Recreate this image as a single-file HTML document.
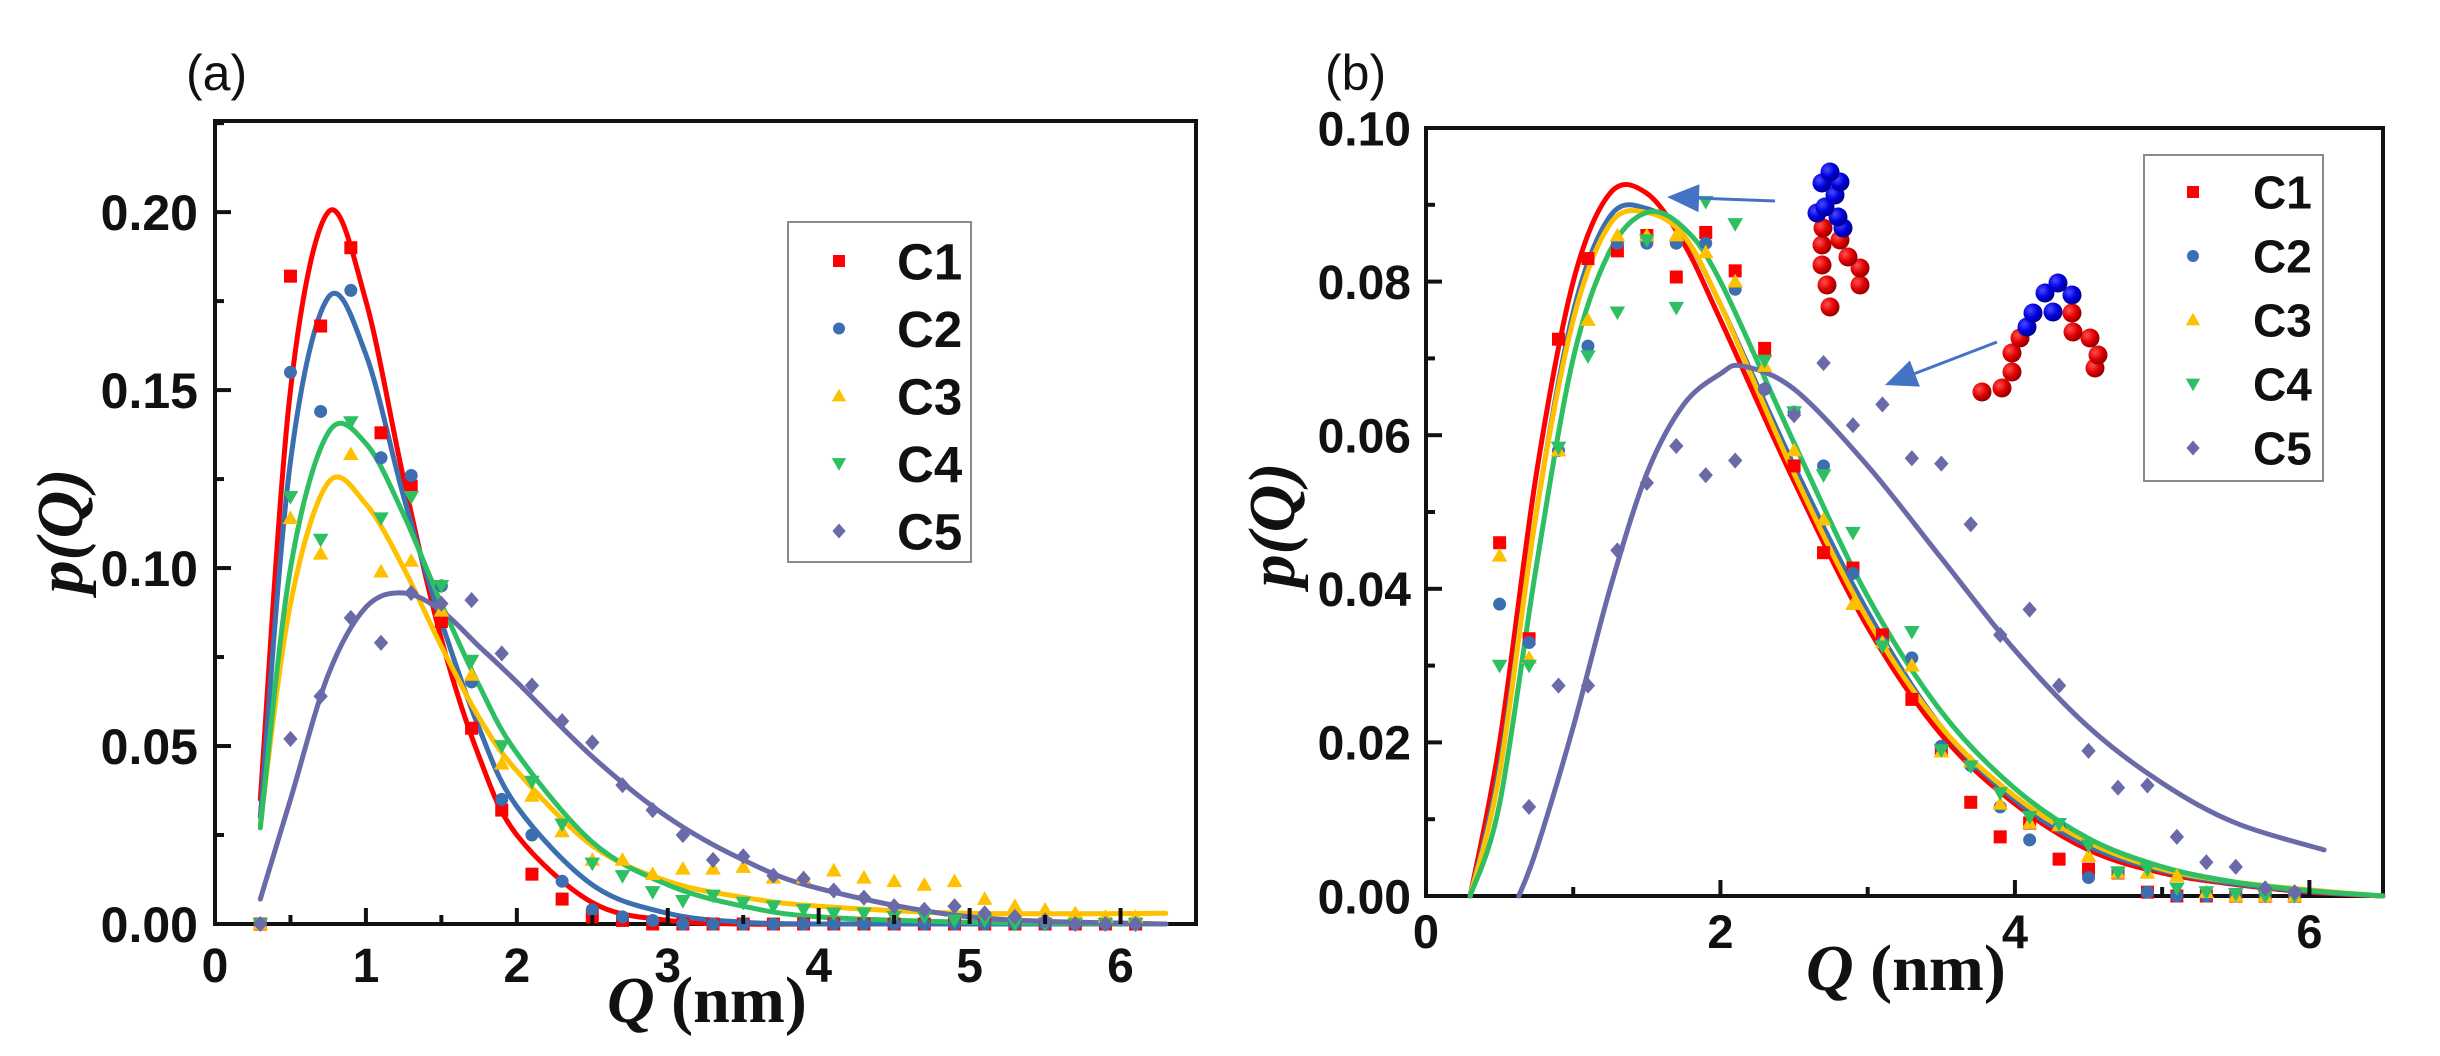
<!DOCTYPE html>
<html><head><meta charset="utf-8"><style>
html,body{margin:0;padding:0;background:#fff;}
svg{display:block;}
.tk{font-family:"Liberation Sans",sans-serif;font-weight:bold;fill:#111;}
.ttl{font-family:"Liberation Serif",serif;font-weight:bold;fill:#111;}
</style></head><body>
<svg id="fig" width="2440" height="1056" viewBox="0 0 2440 1056" xmlns="http://www.w3.org/2000/svg">
<g id="panelA"></g>
<g id="panelB"></g>
<g id="illus"></g>
</svg>
<script>
// ---------- Panel (a) data ----------
const seriesNames = ["C1","C2","C3","C4","C5"];
const colors = ["#ff0000","#3b6fb0","#ffc000","#2fbf63","#6a6aa8"];
const ptX_a = [0.3,0.5,0.7,0.9,1.1,1.3,1.5,1.7,1.9,2.1,2.3,2.5,2.7,2.9,3.1,3.3,3.5,3.7,3.9,4.1,4.3,4.5,4.7,4.9,5.1,5.3,5.5,5.7,5.9,6.1];
const a_C1 = [0,0.182,0.168,0.19,0.138,0.123,0.085,0.055,0.032,0.014,0.007,0.002,0.001,0,0,0,0,0,0,0,0,0,0,0,0,0,0,0,0,0];
const a_C2 = [0,0.155,0.144,0.178,0.131,0.126,0.095,0.068,0.035,0.025,0.012,0.004,0.002,0.001,0,0,0,0,0,0,0,0,0,0,0,0,0,0,0,0];
const a_C3 = [0,0.114,0.104,0.132,0.099,0.102,0.088,0.07,0.045,0.036,0.026,0.018,0.018,0.014,0.0155,0.0155,0.016,0.013,0.013,0.015,0.013,0.012,0.011,0.012,0.007,0.005,0.004,0.003,0.002,0.002];
const a_C4 = [0,0.12,0.108,0.141,0.114,0.12,0.095,0.074,0.05,0.04,0.028,0.017,0.0135,0.009,0.0065,0.008,0.006,0.005,0.004,0.003,0.003,0.002,0.002,0.001,0.001,0,0,0,0,0];
const a_C5 = [0,0.052,0.064,0.086,0.079,0.093,0.09,0.091,0.076,0.067,0.057,0.051,0.039,0.032,0.025,0.018,0.019,0.0136,0.0127,0.0094,0.0074,0.005,0.004,0.005,0.003,0.002,0.001,0,0,0];
const fitX_a = [0.3,0.5,0.75,1.0,1.25,1.5,1.75,2.0,2.5,3.0,3.5,4.0,5.0,6.3];
const fit_a_C1 = [0.035,0.15,0.2,0.175,0.125,0.08,0.047,0.025,0.006,0.001,0,0,0,0];
const fit_a_C2 = [0.03,0.13,0.176,0.16,0.12,0.085,0.055,0.033,0.011,0.003,0.0005,0,0,0];
const fit_a_C3 = [0.028,0.09,0.124,0.118,0.1,0.078,0.058,0.043,0.022,0.012,0.0075,0.005,0.003,0.003];
const fit_a_C4 = [0.027,0.1,0.138,0.135,0.115,0.09,0.067,0.048,0.023,0.011,0.005,0.002,0.0005,0];
const fit_a_C5 = [0.007,0.035,0.07,0.089,0.093,0.088,0.078,0.068,0.047,0.03,0.018,0.01,0.002,0];
const xTicks_a = ["0","1","2","3","4","5","6"];
const yTicks_a = ["0.00","0.05","0.10","0.15","0.20"];

// ---------- Panel (b) data ----------
const ptX_b = [0.5,0.7,0.9,1.1,1.3,1.5,1.7,1.9,2.1,2.3,2.5,2.7,2.9,3.1,3.3,3.5,3.7,3.9,4.1,4.3,4.5,4.7,4.9,5.1,5.3,5.5,5.7,5.9];
const b_C1 = [0.046,0.0335,0.0725,0.083,0.084,0.086,0.0806,0.0864,0.0814,0.0713,0.056,0.0447,0.0427,0.034,0.0256,0.019,0.0122,0.0077,0.0095,0.0048,0.0035,0.003,0.0005,0,0,0,0,0];
const b_C2 = [0.038,0.033,0.058,0.0716,0.085,0.085,0.085,0.085,0.079,0.066,0.063,0.056,0.042,0.033,0.031,0.0195,0.017,0.0116,0.0073,0.009,0.0024,0.003,0.0005,0,0,0,0,0];
const b_C3 = [0.0443,0.031,0.058,0.075,0.086,0.086,0.086,0.0838,0.08,0.069,0.058,0.049,0.038,0.033,0.03,0.0188,0.0175,0.012,0.0095,0.0092,0.0052,0.003,0.003,0.0026,0.0005,0,0,0];
const b_C4 = [0.03,0.03,0.0584,0.0703,0.076,0.0854,0.0766,0.0904,0.0875,0.0697,0.063,0.0548,0.0473,0.0325,0.0344,0.019,0.0169,0.0134,0.0103,0.0094,0.0066,0.0031,0.0035,0.001,0.0005,0.0003,0,0];
const b_C5 = [null,0.0116,0.0274,0.0274,0.045,0.0538,0.0586,0.0548,0.0567,0.066,0.0626,0.0694,0.0613,0.064,0.057,0.0563,0.0484,0.034,0.0373,0.0274,0.0189,0.0141,0.0144,0.0077,0.0044,0.0038,0.001,0.0005];
const fitX_b = [0.3,0.5,0.75,1.0,1.25,1.5,1.75,2.0,2.5,3.0,3.5,4.0,4.5,5.0,5.5,6.0,6.5];
const fit_b_C1 = [0,0.02,0.055,0.08,0.0915,0.0915,0.085,0.075,0.054,0.035,0.021,0.012,0.006,0.003,0.0015,0.0005,0];
const fit_b_C2 = [0,0.017,0.05,0.076,0.0885,0.0895,0.086,0.077,0.056,0.037,0.022,0.0125,0.0065,0.0033,0.0016,0.0006,0];
const fit_b_C3 = [0,0.016,0.05,0.075,0.0875,0.089,0.086,0.077,0.055,0.036,0.022,0.013,0.007,0.0035,0.0018,0.0008,0];
const fit_b_C4 = [0,0.012,0.043,0.07,0.084,0.089,0.087,0.08,0.059,0.039,0.024,0.014,0.0075,0.0038,0.0018,0.0007,0];
const fitX_b5 = [0.63,0.75,1.0,1.25,1.5,1.75,2.0,2.15,2.5,3.0,3.5,4.0,4.5,5.0,5.5,6.1];
const fit_b_C5 = [0,0.006,0.022,0.04,0.055,0.064,0.068,0.069,0.066,0.056,0.044,0.032,0.022,0.0147,0.0095,0.006];
const xTicks_b = ["0","2","4","6"];
const yTicks_b = ["0.00","0.02","0.04","0.06","0.08","0.10"];

const NS="http://www.w3.org/2000/svg";
function mk(tag, attrs, parent){const e=document.createElementNS(NS,tag);for(const k in attrs)e.setAttribute(k,attrs[k]);parent.appendChild(e);return e;}

function smoothPath(pts){
  let d="M"+pts[0][0].toFixed(1)+","+pts[0][1].toFixed(1);
  for(let i=0;i<pts.length-1;i++){
    const p0=pts[i-1]||pts[i],p1=pts[i],p2=pts[i+1],p3=pts[i+2]||p2;
    const c1=[p1[0]+(p2[0]-p0[0])/6,p1[1]+(p2[1]-p0[1])/6];
    const c2=[p2[0]-(p3[0]-p1[0])/6,p2[1]-(p3[1]-p1[1])/6];
    d+=" C"+c1[0].toFixed(1)+","+c1[1].toFixed(1)+" "+c2[0].toFixed(1)+","+c2[1].toFixed(1)+" "+p2[0].toFixed(1)+","+p2[1].toFixed(1);
  }
  return d;
}

function marker(g, kind, cx, cy, color, s){
  let e;
  if(kind===0) e=mk("rect",{x:cx-s/2,y:cy-s/2,width:s,height:s,fill:color},g);
  else if(kind===1) e=mk("circle",{cx:cx,cy:cy,r:s/2,fill:color},g);
  else if(kind===2) e=mk("polygon",{points:`${cx},${cy-s*0.6} ${cx+s*0.6},${cy+s*0.45} ${cx-s*0.6},${cy+s*0.45}`,fill:color},g);
  else if(kind===3) e=mk("polygon",{points:`${cx},${cy+s*0.6} ${cx+s*0.6},${cy-s*0.45} ${cx-s*0.6},${cy-s*0.45}`,fill:color},g);
  else e=mk("polygon",{points:`${cx},${cy-s*0.62} ${cx+s*0.55},${cy} ${cx},${cy+s*0.62} ${cx-s*0.55},${cy}`,fill:color},g);
  return e;
}

function drawPanel(cfg){
  const g=cfg.g;
  const X=v=>cfg.left+(v-cfg.xmin)/(cfg.xmax-cfg.xmin)*(cfg.right-cfg.left);
  const Y=v=>cfg.bottom-(v-cfg.ymin)/(cfg.ymax-cfg.ymin)*(cfg.bottom-cfg.top);
  // frame
  const fr=mk("rect",{x:cfg.left,y:cfg.top,width:cfg.right-cfg.left,height:cfg.bottom-cfg.top,fill:"none",stroke:"#111","stroke-width":4},g);
  
  
  // curves
  cfg.fits.forEach((f,i)=>{
    const pts=f.x.map((xv,j)=>[X(xv),Y(f.y[j])]);
    const p=mk("path",{d:smoothPath(pts),fill:"none",stroke:colors[i],"stroke-width":5,"stroke-linejoin":"round","stroke-linecap":"round"},g);
    
    
  });
  // points
  cfg.points.forEach((ys,i)=>{
    const gg=mk("g",{},g);
    
    
    ys.forEach((v,j)=>{ if(v===null) return;
      const m=marker(gg,i,X(cfg.px[j]),Y(v),colors[i],13);
      
      
    });
  });
  // ticks
  cfg.xt.forEach(lbl=>{
    const v=parseFloat(lbl);
    const t=mk("line",{x1:X(v),x2:X(v),y1:cfg.bottom,y2:cfg.bottom-16,stroke:"#111","stroke-width":4},g);
    
    
    const tx=mk("text",{x:X(v),y:cfg.xlY,"text-anchor":"middle","font-size":cfg.xfs,class:"tk"},g);
    tx.textContent=lbl;
    
    
  });
  for(let v=cfg.xmin+cfg.xminor;v<cfg.xmax;v+=cfg.xminor*2){
    const t=mk("line",{x1:X(v),x2:X(v),y1:cfg.bottom,y2:cfg.bottom-9,stroke:"#111","stroke-width":4},g);
    
    
  }
  cfg.yt.forEach(lbl=>{
    const v=parseFloat(lbl);
    const t=mk("line",{x1:cfg.left,x2:cfg.left+16,y1:Y(v),y2:Y(v),stroke:"#111","stroke-width":4},g);
    
    
    const tx=mk("text",{x:cfg.ylX,y:Y(v)+cfg.yfs*0.36,"text-anchor":"end","font-size":cfg.yfs,class:"tk"},g);
    tx.textContent=lbl;
    
    
  });
  const ystep=parseFloat(cfg.yt[1])-parseFloat(cfg.yt[0]);
  for(let v=ystep/2;v<cfg.ymax;v+=ystep){
    const t=mk("line",{x1:cfg.left,x2:cfg.left+9,y1:Y(v),y2:Y(v),stroke:"#111","stroke-width":4},g);
    
    
  }
  // legend
  const L=cfg.leg;
  const lg=mk("g",{},g);
  
  
  const lb=mk("rect",{x:L.x,y:L.y,width:L.w,height:L.h,fill:"#fff",stroke:"#8a8a8a","stroke-width":2},lg);
  
  
  seriesNames.forEach((n,i)=>{
    const cy=L.y0+i*L.dy;
    const m=marker(lg,i,L.mx,cy,colors[i],12);
    
    
    const t=mk("text",{x:L.tx,y:cy+L.fs*0.36,"font-size":L.fs,class:"tk"},lg);
    t.textContent=n;
    
    
  });
  // titles
  const pl=mk("text",{x:cfg.plX,y:cfg.plY,"font-size":50,"font-family":"Liberation Sans, sans-serif",fill:"#111"},g);
  pl.textContent=cfg.panelLabel;
  
  
  const yt=mk("text",{x:0,y:0,"font-size":66,class:"ttl","font-style":"italic","text-anchor":"middle",transform:`translate(${cfg.ytX},${cfg.ytY}) rotate(-90)`},g);
  yt.textContent="p(Q)";
  
  
  const xt=mk("text",{x:cfg.xtX,y:cfg.xtY,"font-size":66,class:"ttl"},g);
  xt.innerHTML='<tspan font-style="italic">Q</tspan> (nm)';
  
  
}

drawPanel({g:document.getElementById("panelA"),left:215,right:1196,top:121,bottom:924,xmin:0,xmax:6.5,ymin:0,ymax:0.2256,xminor:0.5,
  xt:xTicks_a,yt:yTicks_a,xfs:48,yfs:50,xlY:982,ylX:198,
  px:ptX_a,points:[a_C1,a_C2,a_C3,a_C4,a_C5],
  fits:[{x:fitX_a,y:fit_a_C1},{x:fitX_a,y:fit_a_C2},{x:fitX_a,y:fit_a_C3},{x:fitX_a,y:fit_a_C4},{x:fitX_a,y:fit_a_C5}],
  leg:{x:788,y:222,w:183,h:340,y0:261,dy:67.5,mx:839,tx:897,fs:51},
  panelLabel:"(a)",plX:186,plY:90,ytX:82,ytY:531,xtX:607,xtY:1022});

drawPanel({g:document.getElementById("panelB"),left:1426,right:2383,top:128,bottom:896,xmin:0,xmax:6.5,ymin:0,ymax:0.10,xminor:1,
  xt:xTicks_b,yt:yTicks_b,xfs:47,yfs:48,xlY:948,ylX:1411,
  px:ptX_b,points:[b_C1,b_C2,b_C3,b_C4,b_C5],
  fits:[{x:fitX_b,y:fit_b_C1},{x:fitX_b,y:fit_b_C2},{x:fitX_b,y:fit_b_C3},{x:fitX_b,y:fit_b_C4},{x:fitX_b5,y:fit_b_C5}],
  leg:{x:2144,y:155,w:179,h:326,y0:192,dy:64,mx:2193,tx:2253,fs:46},
  panelLabel:"(b)",plX:1325,plY:90,ytX:1294,ytY:525,xtX:1806,xtY:990});

// ---------- illustrations (arrows + bead molecules) ----------
const il=document.getElementById("illus");
function arrow(x1,y1,x2,y2,name){
  const g=mk("g",{},il);
  
  
  const ang=Math.atan2(y2-y1,x2-x1),L=32,W=14;
  const bx=x2-L*Math.cos(ang),by=y2-L*Math.sin(ang);
  mk("line",{x1:x1,y1:y1,x2:bx,y2:by,stroke:"#4472c4","stroke-width":3},g);
  mk("polygon",{points:`${x2},${y2} ${bx-W*Math.sin(ang)},${by+W*Math.cos(ang)} ${bx+W*Math.sin(ang)},${by-W*Math.cos(ang)}`,fill:"#4472c4"},g);
}
arrow(1775,201,1667,197,"arrow-extended");
arrow(1997,342,1885,385,"arrow-folded");
const defs=mk("defs",{},il);
defs.innerHTML='<radialGradient id="gr" cx="35%" cy="35%" r="65%"><stop offset="0" stop-color="#ff5050"/><stop offset="0.6" stop-color="#e00000"/><stop offset="1" stop-color="#900"/></radialGradient><radialGradient id="gb" cx="35%" cy="35%" r="65%"><stop offset="0" stop-color="#4a4aff"/><stop offset="0.6" stop-color="#0000e0"/><stop offset="1" stop-color="#000090"/></radialGradient>';
function beads(list,fill,name){
  const g=mk("g",{},il);
  
  
  list.forEach(p=>mk("circle",{cx:p[0],cy:p[1],r:9.5,fill:fill},g));
}
beads([[1830,307],[1827,285],[1860,285],[1860,268],[1822,265],[1848,257],[1822,245],[1840,240],[1823,228]],"url(#gr)","molecule-extended-red");
beads([[1843,228],[1838,217],[1817,213],[1825,207],[1835,195],[1822,183],[1840,182],[1830,172]],"url(#gb)","molecule-extended-blue");
beads([[1982,392],[2002,388],[2012,372],[2012,353],[2020,338],[2095,368],[2098,355],[2090,338],[2073,332],[2072,313]],"url(#gr)","molecule-folded-red");
beads([[2027,327],[2033,313],[2053,312],[2045,293],[2072,295],[2058,283]],"url(#gb)","molecule-folded-blue");
</script>
</body></html>
